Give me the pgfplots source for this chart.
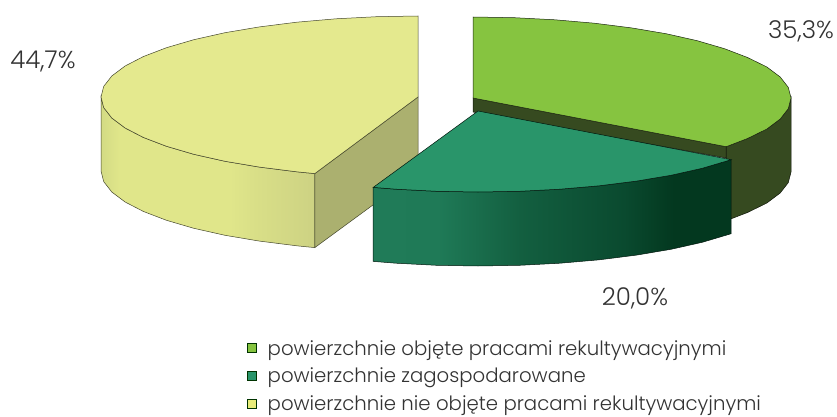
\documentclass[border=0pt]{standalone}
\usepackage{pgfplots}
\pgfplotsset{compat=1.18}
\usepackage{fontspec}
\setmainfont{Poppins Light}
\definecolor{ygtop}{HTML}{E4E98E}
\definecolor{ygwall}{HTML}{ABB06F}
\definecolor{grtop}{HTML}{86C440}
\definecolor{grwall}{HTML}{364A20}
\definecolor{tltop}{HTML}{29956A}
\definecolor{txt}{HTML}{333333}
\definecolor{ygA}{HTML}{D3DB84}
\definecolor{ygB}{HTML}{E0E68A}
\definecolor{ygC}{HTML}{D8DE87}
\definecolor{ygD}{HTML}{CDD283}
\definecolor{tlA}{HTML}{207B58}
\definecolor{tlB}{HTML}{1F7A57}
\definecolor{tlC}{HTML}{135F40}
\definecolor{tlD}{HTML}{0A4A2F}
\definecolor{tlE}{HTML}{03381F}
\pgfdeclarehorizontalshading{ygside}{100bp}{color(0bp)=(ygA); color(25bp)=(ygA); color(29.4bp)=(ygB); color(55bp)=(ygB); color(62bp)=(ygC); color(75bp)=(ygD); color(100bp)=(ygD)}
\pgfdeclarehorizontalshading{tlside}{100bp}{color(0bp)=(tlA); color(25bp)=(tlA); color(34bp)=(tlB); color(45.5bp)=(tlC); color(60bp)=(tlD); color(67bp)=(tlE); color(75bp)=(tlE); color(100bp)=(tlE)}
\begin{document}
\begin{tikzpicture}
\useasboundingbox (0,0) rectangle (837pt,417pt);
\begin{axis}[
  at={(0,0)}, anchor=south west,
  scale only axis, width=837pt, height=417pt,
  xmin=0, xmax=837, ymin=0, ymax=417, y dir=reverse,
  hide axis, clip=false,
  legend style={at={(axis cs:247,338)}, anchor=north west, draw=none, fill=none,
    font=\fontsize{19.7}{19.7}\selectfont\color{txt}, row sep=7.4pt, inner sep=0pt,
    /tikz/column 1/.style={column sep=8.5pt}},
  legend cell align=left,
  legend image code/.code={\draw[#1,draw=black!75!green!80!black,line width=1pt] (0.5pt,-4.5pt) rectangle (9.5pt,4.5pt);},
]
% yellow slice
\addplot[shading=ygside, draw=black!60!ygwall, line width=0.5pt, forget plot] coordinates {
(101,97)(101,171)(103.7,181.6)(111.8,192)(125.1,202)(143.5,211.5)(166.5,220.3)(193.8,228.3)(225,235.3)(259.5,241.1)(296.7,245.8)(314.8,247.6)
(314.8,173.6)(296.7,171.8)(259.5,167.1)(225,161.3)(193.8,154.3)(166.5,146.3)(143.5,137.5)(125.1,128)(111.8,118)(103.7,107.6)(101,97)} -- cycle;
\addplot[fill=ygwall, draw=black!60!ygwall, line width=0.5pt, forget plot] coordinates {
(314.8,173.6)(418,97)(418,172)(314.8,247.6)} -- cycle;
\addplot[fill=ygtop, draw=black!60!ygwall, line width=0.5pt, forget plot] coordinates {
(418,16)(376.6,16.7)(336,18.8)(296.7,22.2)(259.5,26.9)(225,32.7)(193.8,39.7)(166.5,47.7)(143.5,56.5)(125.1,66)(111.8,76)(103.7,86.4)(101,97)
(103.7,107.6)(111.8,118)(125.1,128)(143.5,137.5)(166.5,146.3)(193.8,154.3)(225,161.3)(259.5,167.1)(296.7,171.8)(314.8,173.6)(418,97)} -- cycle;
% green slice
\addplot[fill=grwall, draw=black!70!grwall, line width=0.5pt, forget plot] coordinates {
(791,98)(791,172)(788.3,182.6)(780.2,193)(766.9,203)(747.5,212.5)(726.2,220.7)(726.2,146.7)(747.5,138.5)(766.9,129)(780.2,119)(788.3,108.6)} -- cycle;
\addplot[fill=grwall, draw=black!70!grwall, line width=0.5pt, forget plot] coordinates {
(473,98)(726.2,146.7)(726.2,158)(473,112)} -- cycle;
\addplot[fill=grtop, draw=black!50!grwall, line width=0.5pt, forget plot] coordinates {
(473,17)(514.4,17.7)(555,19.8)(594.3,23.2)(631.5,27.9)(666,33.7)(697.2,40.7)(724.5,48.7)(747.5,57.5)(766.9,67)(780.2,77)(788.3,87.4)(791,98)
(788.3,108.6)(780.2,119)(766.9,129)(747.5,138.5)(726.2,146.7)(473,98)} -- cycle;
% teal slice
\addplot[shading=tlside, draw=black!60!tlE, line width=0.5pt, forget plot] coordinates {
(731.2,159.7)(731.2,233.7)(702.2,242.3)(671,249.3)(636.5,255.1)(599.3,259.8)(560,263.2)(519.4,265.3)(478,266)(436.6,265.3)(396,263.2)(373.2,261.4)
(373.2,187.4)(396,189.2)(436.6,191.3)(478,192)(519.4,191.3)(560,189.2)(599.3,185.8)(636.5,181.1)(671,175.3)(702.2,168.3)} -- cycle;
\addplot[fill=tltop, draw=black!60!tlE, line width=0.5pt, forget plot] coordinates {
(478,111)(731.2,159.7)(702.2,168.3)(671,175.3)(636.5,181.1)(599.3,185.8)(560,189.2)(519.4,191.3)(478,192)(436.6,191.3)(396,189.2)(373.2,187.4)} -- cycle;
\addlegendimage{fill=grtop}
\addlegendentry{powierzchnie objęte pracami rekultywacyjnymi}
\addlegendimage{fill=tltop}
\addlegendentry{powierzchnie zagospodarowane}
\addlegendimage{fill=ygtop!85!yellow}
\addlegendentry{powierzchnie nie objęte pracami rekultywacyjnymi}
\node[font=\fontsize{24.5}{24.5}\selectfont, text=txt] at (axis cs:43,62) {44,7\%};
\node[font=\fontsize{24.5}{24.5}\selectfont, text=txt] at (axis cs:801,31) {35,3\%};
\node[font=\fontsize{24.5}{24.5}\selectfont, text=txt] at (axis cs:635,298) {20,0\%};
\end{axis}
\end{tikzpicture}
\end{document}
